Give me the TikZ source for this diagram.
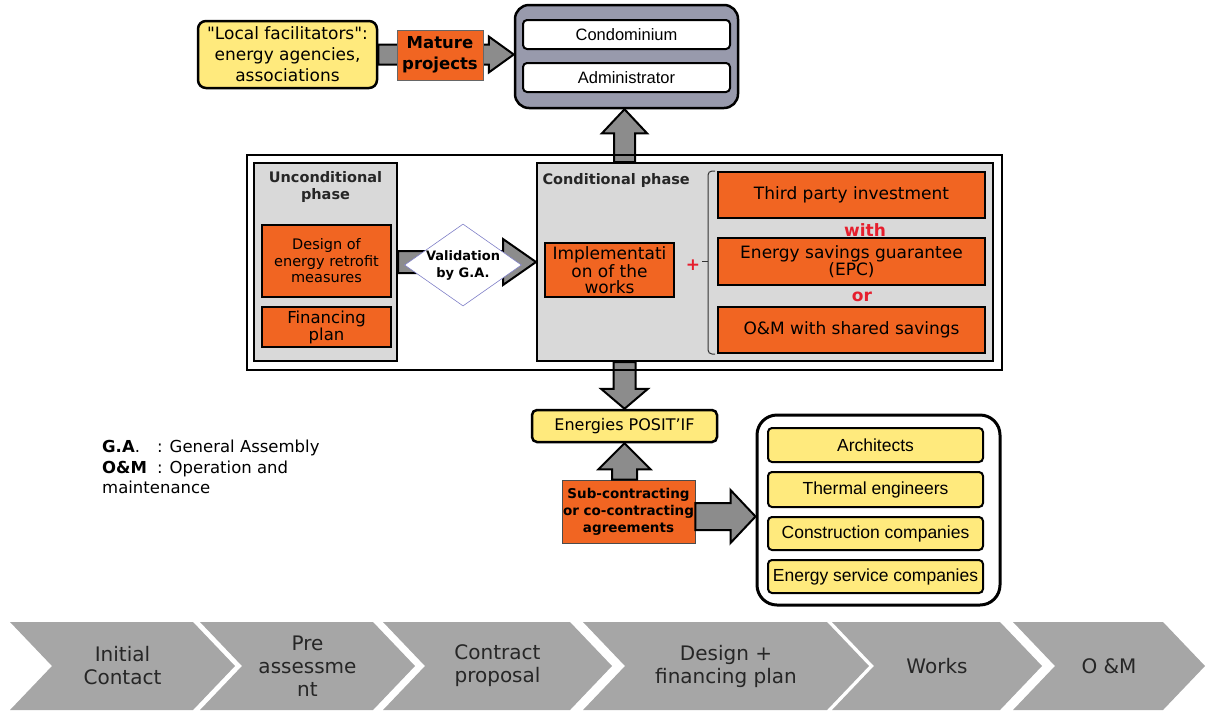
\documentclass[tikz,border=0pt]{standalone}
\usepackage{fontspec}
\setmainfont{DejaVu Sans}[Ligatures=TeXOff]
\newfontfamily\arialfont{Liberation Sans}
\usetikzlibrary{arrows.meta,calc,shapes.geometric}

\definecolor{retrofitorange}{RGB}{241,101,34}
\definecolor{paleyellow}{RGB}{255,234,125}
\definecolor{slateblue}{RGB}{152,154,172}
\definecolor{panelgray}{RGB}{217,217,217}
\definecolor{stepgray}{RGB}{166,166,166}
\definecolor{plusred}{RGB}{230,30,45}
\definecolor{diamondblue}{RGB}{128,128,200}

% fat grey arrow: start, end, half shaft, half head, head length
\newcommand{\blockarrow}[5]{%
  \coordinate (ba-base) at ($(#2)!#5!(#1)$);
  \filldraw[fatarrow]
    ($(#1)!#3!90:(#2)$) -- ($(ba-base)!#3!90:(#2)$) -- ($(ba-base)!#4!90:(#2)$)
    -- (#2) -- ($(ba-base)!#4!-90:(#2)$) -- ($(ba-base)!#3!-90:(#2)$)
    -- ($(#1)!#3!-90:(#2)$) -- cycle;}

\begin{document}
\begin{tikzpicture}[x=1pt, y=-1pt,
  yellowbox/.style={draw, line width=2.5pt, rounded corners=8pt, fill=paleyellow,
    align=center, inner sep=0pt},
  orangebox/.style={draw, line width=2pt, fill=retrofitorange, align=center, inner sep=0pt},
  panel/.style={draw, line width=2pt, fill=panelgray, inner sep=0pt},
  whitebar/.style={draw, line width=2pt, rounded corners=4pt, fill=white, inner sep=0pt,
    minimum width=207pt, minimum height=29pt, font=\arialfont\fontsize{16.5}{18}\selectfont},
  listbar/.style={yellowbox, line width=2pt, rounded corners=4pt, minimum width=215pt,
    font=\arialfont\fontsize{17.5}{19}\selectfont},
  redword/.style={text=plusred, font=\bfseries\fontsize{17}{19}\selectfont, inner sep=0pt},
  fatarrow/.style={fill=black!45, draw=black, line width=2pt},
  bracket/.style={draw=black!80, line width=1pt, rounded corners=4pt},
  stepbox/.style={fill=stepgray},
  steplabel/.style={align=center, text=black!85, font=\fontsize{20}{23}\selectfont}]

  \useasboundingbox (0,0) rectangle (1209,713);

  % Facilitators
  \node[yellowbox, minimum width=179pt, minimum height=67pt,
    font=\fontsize{17}{21}\selectfont]
    (facil) at (287.5,54.5) {"Local facilitators":\\energy agencies,\\associations};
  % Condominium block
  \node[draw, line width=2.5pt, rounded corners=14pt, fill=slateblue,
    minimum width=223pt, minimum height=103pt] (condo) at (626.5,56.5) {};
  \node[whitebar] (condominium) at (626.5,34.5) {Condominium};
  \node[whitebar] (admin) at (626.5,77.5) {Administrator};

  % Unconditional phase
  \node[panel, minimum width=143pt, minimum height=198pt] (uncond) at (325.5,262) {};
  \node[align=center, text=black!85, font=\bfseries\fontsize{14.5}{16.5}\selectfont]
    (uncondtitle) at (325.5,187) {Unconditional\\phase};
  \node[orangebox, minimum width=129pt, minimum height=72pt,
    font=\fontsize{14.5}{16.5}\selectfont]
    (design) at (326.5,261) {Design of\\energy retrofit\\measures};
  \node[orangebox, minimum width=129pt, minimum height=40pt,
    font=\fontsize{16.5}{15}\selectfont]
    (financing) at (326.5,327) {Financing\\plan};

  % Conditional phase
  \node[panel, minimum width=456pt, minimum height=198pt] (cond) at (765,262) {};
  \node[anchor=west, text=black!85, font=\bfseries\fontsize{14.5}{16}\selectfont]
    (condtitle) at (539,180) {Conditional phase};
  \node[orangebox, minimum width=129pt, minimum height=54pt,
    font=\fontsize{17}{16}\selectfont]
    (impl) at (609.5,270) {Implementati\\on of the\\works};
  \node[redword] (plus) at (693,265) {+};
  \node[orangebox, minimum width=267pt, minimum height=46pt,
    font=\fontsize{17}{16}\selectfont]
    (third) at (851.5,195) {Third party investment};
  \node[redword] (with) at (865,230) {with};
  \node[orangebox, minimum width=267pt, minimum height=47pt,
    font=\fontsize{17}{16}\selectfont]
    (epc) at (851.5,261.5) {Energy savings guarantee\\(EPC)};
  \node[redword] (or) at (862,297) {or};
  \node[orangebox, minimum width=267pt, minimum height=46pt,
    font=\fontsize{17}{16}\selectfont]
    (shared) at (851.5,330) {O\&M with shared savings};
  % brace in front of the options
  \draw[bracket] ([xshift=-2pt]third.north west) -- ++(-7,0)
    |- ([xshift=-2pt]shared.south west);
  \draw[bracket] ([xshift=-9pt]epc.west) -- ++(-6,0);

  % Energies POSIT'IF and partners
  \node[yellowbox, rounded corners=5pt, minimum width=185pt, minimum height=32pt,
    font=\fontsize{16}{18}\selectfont]
    (posit) at (624.5,426) {Energies POSIT’IF};
  \node[orangebox, line width=0.8pt, draw=black!70, minimum width=133pt,
    minimum height=63pt, font=\bfseries\fontsize{13.5}{17}\selectfont]
    (subc) at (628.5,511.5) {Sub-contracting\\or co-contracting\\agreements};
  \node[draw, line width=3pt, rounded corners=20pt, fill=white,
    minimum width=243pt, minimum height=190pt] (firms) at (878.5,510) {};
  \node[listbar, minimum height=34pt] (architects) at (875.5,445) {Architects};
  \node[listbar, minimum height=35pt] (thermal) at (875.5,489.5) {Thermal engineers};
  \node[listbar, minimum height=33pt] (construction) at (875.5,533.5) {Construction companies};
  \node[listbar, minimum height=33pt] (esco) at (875.5,576.5) {Energy service companies};

  % Legend
  \node[anchor=north west, align=left, inner sep=0pt,
    font=\fontsize{16.5}{20.5}\selectfont] (legend) at (102,440)
    {\makebox[55pt][l]{\textbf{G.A}.}: General Assembly\\
     \makebox[55pt][l]{\textbf{O\&M}}: Operation and\\maintenance};

  % Arrows
  \coordinate (condoin) at (condo.west |- facil.east);
  \blockarrow{facil.east}{condoin}{10pt}{18pt}{25pt}
  \node[orangebox, line width=0.8pt, draw=black!60, minimum width=86pt,
    minimum height=50pt, font=\bfseries\fontsize{16.5}{21}\selectfont]
    (mature) at (440,55) {Mature\\projects};

  \blockarrow{uncond.east}{cond.west}{11pt}{23pt}{33pt}
  \node[diamond, draw=diamondblue, fill=white, line width=0.6pt, aspect=1.45,
    minimum width=117pt, minimum height=82pt, inner sep=0pt, align=center,
    font=\bfseries\fontsize{13}{17}\selectfont]
    (valid) at (463,265) {Validation\\by G.A.};

  \coordinate (condtop) at (posit.north |- cond.north);
  \coordinate (condobottom) at (posit.north |- condo.south);
  \blockarrow{condtop}{condobottom}{10.5pt}{22.5pt}{24pt}
  \coordinate (condbottom) at (posit.north |- cond.south);
  \blockarrow{condbottom}{posit.north}{11pt}{23.5pt}{20pt}
  \coordinate (subctop) at (posit.south |- subc.north);
  \blockarrow{subctop}{posit.south}{12.5pt}{26pt}{26pt}
  \coordinate (subcout) at ([yshift=-5pt]subc.east);
  \coordinate (firmsin) at (firms.west |- subcout);
  \blockarrow{subcout}{firmsin}{13.5pt}{26.5pt}{25pt}

  % Outer frame
  \node[draw, line width=2pt, minimum width=755pt, minimum height=215pt, inner sep=0pt]
    (frame) at (624.5,262.5) {};

  % Process steps
  \foreach \l/\r/\txt [count=\i] in {10/193/{Initial\\Contact},
      200/373/{Pre\\assessme\\nt}, 383/570/{Contract\\proposal},
      583/827/{Design +\\financing plan}, 832/1000/Works, 1013/1163/{O \&M}}
  {
    \fill[stepbox] (\l,622) -- (\r,622) -- (\r+42,666) -- (\r,710) -- (\l,710)
      -- (\l+42,666) -- cycle;
    \node[steplabel] (step\i) at ({(\l+\r+42)/2},666) {\txt};
  }
\end{tikzpicture}
\end{document}
